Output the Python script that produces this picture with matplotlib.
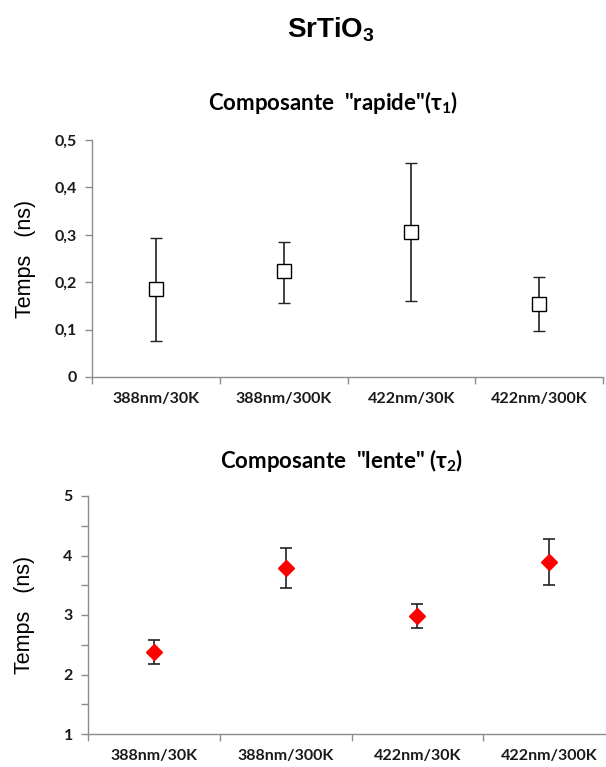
import numpy as np
import matplotlib
matplotlib.use("Agg")
import matplotlib.pyplot as plt
from matplotlib.ticker import MultipleLocator, FuncFormatter

# data
categories = ['388nm/30K', '388nm/300K', '422nm/30K', '422nm/300K']

tau1 = [0.185, 0.224, 0.306, 0.155]
tau1_low = [0.110, 0.068, 0.145, 0.057]
tau1_high = [0.108, 0.061, 0.146, 0.057]

tau2 = [2.38, 3.79, 2.98, 3.89]
tau2_low = [0.21, 0.34, 0.20, 0.38]
tau2_high = [0.20, 0.33, 0.21, 0.39]

plt.rcParams['font.family'] = ['Lato', 'DejaVu Sans']
axis_grey = '#8c8c8c'
txt = '#1a1a1a'

fig = plt.figure(figsize=(6.06, 7.67), dpi=100)

fig.text(331 / 606, 1 - 30 / 767, r'SrTiO$_\mathregular{3}$', ha='center', va='center',
         fontsize=20, fontweight='bold', family=['Liberation Sans', 'DejaVu Sans'])


def style_axes(ax, ylab):
    for s in ['top', 'right']:
        ax.spines[s].set_visible(False)
    for s in ['left', 'bottom']:
        ax.spines[s].set_color(axis_grey)
        ax.spines[s].set_linewidth(1.0)
    ax.set_xlim(-0.5, 3.5)
    ax.set_xticks([-0.5, 0.5, 1.5, 2.5, 3.5])
    ax.set_xticklabels([])
    ax.set_xticks(range(4), minor=True)
    ax.set_xticklabels(categories, minor=True)
    ax.tick_params(axis='x', which='major', length=5, color=axis_grey, width=1)
    ax.tick_params(axis='x', which='minor', length=0, pad=11, labelsize=11.5, labelcolor=txt)
    ax.tick_params(axis='y', which='both', length=5, color=axis_grey, width=1,
                   labelsize=11.5, labelcolor=txt, pad=6)
    for lab in ax.get_xticklabels(minor=True) + ax.get_yticklabels():
        lab.set_fontweight('bold')
    ax.set_ylabel(ylab, fontsize=15.5, family=['Liberation Sans', 'DejaVu Sans'])


# top panel: fast component
ax1 = fig.add_axes([92 / 606, 1 - 377 / 767, (603 - 92) / 606, (377 - 140) / 767])
ax1.errorbar(range(4), tau1, yerr=[tau1_low, tau1_high], fmt='s', ms=10,
             mfc='white', mec='black', mew=1.0, ecolor='#222222', elinewidth=1.2,
             capsize=4, capthick=1.2)
ax1.set_ylim(0, 0.5)
ax1.yaxis.set_major_locator(MultipleLocator(0.1))
ax1.yaxis.set_major_formatter(FuncFormatter(lambda v, p: '0' if abs(v) < 1e-9 else f'{v:.1f}'.replace('.', ',')))
style_axes(ax1, 'Temps   (ns)')
ax1.yaxis.set_label_coords(-0.11, 0.5)
fig.text(333 / 606, 1 - 103 / 767, 'Composante  "rapide"(τ$_\\mathregular{1}$)',
         ha='center', va='center', fontsize=16, fontweight='bold')

# bottom panel: slow component
ax2 = fig.add_axes([88 / 606, 1 - 734 / 767, (615 - 88) / 606, (734 - 496) / 767])
ax2.errorbar(range(4), tau2, yerr=[tau2_low, tau2_high], fmt='D', ms=8,
             mfc='red', mec='red', ecolor='#222222', elinewidth=1.2,
             capsize=4, capthick=1.2)
ax2.set_ylim(1, 5)
ax2.yaxis.set_major_locator(MultipleLocator(1))
ax2.yaxis.set_minor_locator(MultipleLocator(0.5))
style_axes(ax2, 'Temps   (ns)')
ax2.yaxis.set_label_coords(-0.1, 0.5)
fig.text(342 / 606, 1 - 460 / 767, 'Composante  "lente" (τ$_\\mathregular{2}$)',
         ha='center', va='center', fontsize=16, fontweight='bold')

fig.savefig('out.png', dpi=100)
